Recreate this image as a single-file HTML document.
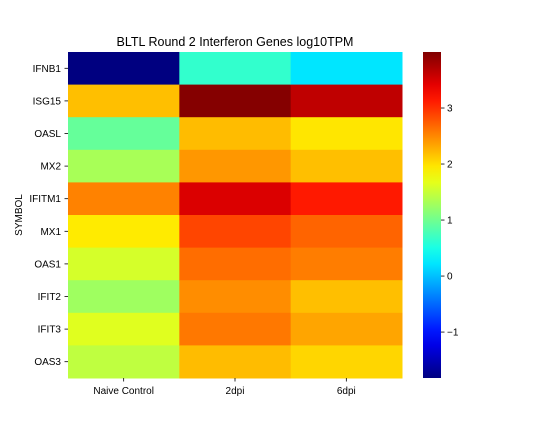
<!DOCTYPE html>
<html><head><meta charset="utf-8"><style>
body{margin:0;background:#fff;}
svg text{font-family:"Liberation Sans",sans-serif;fill:#000;}
</style></head><body>
<svg id="chart" width="540" height="432" xmlns="http://www.w3.org/2000/svg">
<text x="235" y="46" font-size="12.5" text-anchor="middle">BLTL Round 2 Interferon Genes log10TPM</text>
<text transform="translate(22,215) rotate(-90)" font-size="10" text-anchor="middle">SYMBOL</text>
<g id="cells"></g><g id="ylabels"></g><g id="xlabels"></g><g id="cbar"></g>
</svg>
<script>
const genes=["IFNB1","ISG15","OASL","MX2","IFITM1","MX1","OAS1","IFIT2","IFIT3","OAS3"];
const conditions=["Naive Control","2dpi","6dpi"];
const naive=[-1.82,2.18,0.94,1.32,2.53,1.93,1.58,1.27,1.64,1.45];
const dpi2=[0.65,3.97,2.2,2.41,3.48,2.88,2.65,2.47,2.59,2.2];
const dpi6=[0.22,3.64,1.96,2.18,3.13,2.7,2.56,2.18,2.33,2.05];
const cbTicks=[3,2,1,0,-1];
const cbTickLabels=["3","2","1","0","\u22121"];
const vmin=-1.82,vmax=4.0;
const L=68,T=52,W=334,H=326;
const NS="http://www.w3.org/2000/svg";
function jet(v){let t=(v-vmin)/(vmax-vmin);t=Math.max(0,Math.min(1,t));
 const c=x=>Math.round(255*Math.max(0,Math.min(1,x)));
 return `rgb(${c(1.5-Math.abs(4*t-3))},${c(1.5-Math.abs(4*t-2))},${c(1.5-Math.abs(4*t-1))})`;}
function mk(tag,attrs,parent){const e=document.createElementNS(NS,tag);for(const k in attrs)e.setAttribute(k,attrs[k]);parent.appendChild(e);return e;}
const cw=W/conditions.length,ch=H/genes.length;
const xPos=i=>L+i*cw, yPos=i=>T+i*ch;
const series=[naive,dpi2,dpi6];
const cells=document.getElementById('cells');
series.forEach((s,ci)=>s.forEach((v,ri)=>{
 const r=mk('rect',{x:xPos(ci),y:yPos(ri),width:cw+0.5,height:ch+0.5,fill:jet(v)},cells);
 
 
}));
const yl=document.getElementById('ylabels');
genes.forEach((g,i)=>{
 const y=yPos(i)+ch/2;
 mk('line',{x1:L-3.5,x2:L,y1:y,y2:y,stroke:'#000','stroke-width':0.8},yl);
 const t=mk('text',{x:L-7,y:y+3.5,'font-size':10,'text-anchor':'end'},yl);t.textContent=g;
 
 
});
const xl=document.getElementById('xlabels');
conditions.forEach((c,i)=>{
 const x=xPos(i)+cw/2;
 mk('line',{x1:x,x2:x,y1:T+H,y2:T+H+3.5,stroke:'#000','stroke-width':0.8},xl);
 const t=mk('text',{x:x,y:T+H+16,'font-size':10,'text-anchor':'middle'},xl);t.textContent=c;
 
 
});
const cb=document.getElementById('cbar');
const CX=423,CW=18;
const cbY=v=>T+(vmax-v)/(vmax-vmin)*H;
const grad=mk('defs',{},cb);const lg=mk('linearGradient',{id:'jg',x1:0,y1:1,x2:0,y2:0},grad);
for(let i=0;i<=20;i++){const v=vmin+(vmax-vmin)*i/20;mk('stop',{offset:i/20,'stop-color':jet(v)},lg);}
const cbr=mk('rect',{x:CX,y:T,width:CW,height:H,fill:'url(#jg)'},cb);


cbTicks.forEach((v,i)=>{const y=cbY(v);
 mk('line',{x1:CX+CW,x2:CX+CW+3.5,y1:y,y2:y,stroke:'#000','stroke-width':0.8},cb);
 const t=mk('text',{x:CX+CW+6,y:y+3.5,'font-size':10},cb);t.textContent=cbTickLabels[i];
 
 
});
</script>
</body></html>
